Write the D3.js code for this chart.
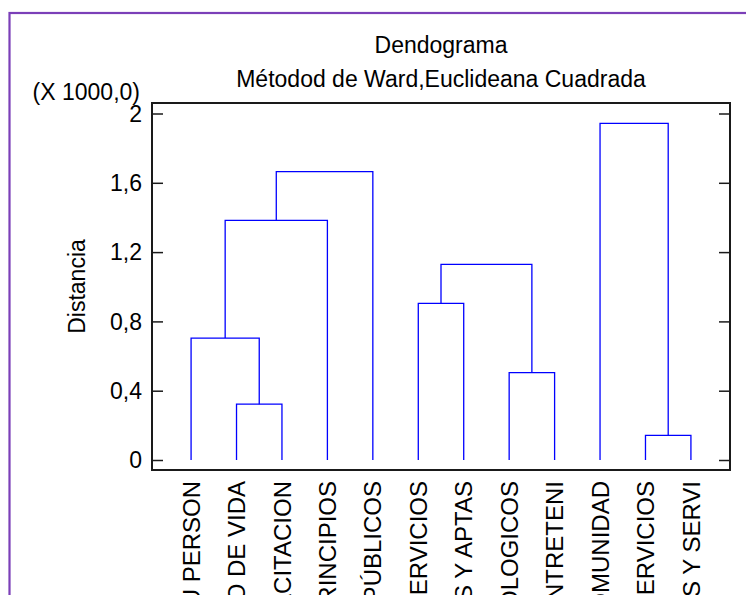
<!DOCTYPE html>
<html>
<head>
<meta charset="utf-8">
<script src="https://cdn.jsdelivr.net/npm/d3@7"></script>
<style type="text/css">
	body { margin: 0; background: #ffffff; overflow: hidden; }
	text { font-family: "Liberation Sans", Arial, sans-serif; fill: #000; }
	.tick line { stroke: #1a1a1a; stroke-width: 1.5; }
	.link { fill: none; stroke: #0000ff; stroke-width: 1.3; }
</style>
</head>
<body>
<div id="chart"></div>
<script>

// leaf names (the ends are cut off by the window, as in the original)
var leaves = ["CUIDADO DE SU PERSON", "ESTILO DE VIDA", "CAPACITACION", "PRINCIPIOS",
	"SERVICIOS PÚBLICOS", "SERVICIOS", "HABILIDADES Y APTAS", "TECNOLOGICOS",
	"MEDIOS DE ENTRETENI", "COMUNIDAD", "SERVICIOS", "BIENES Y SERVI"];

// merges: node 12 is the first merge, 13 the second, ...
var mergeLeft   = [1, 0, 13, 14, 5, 7, 16, 10, 9];
var mergeRight  = [2, 12, 3, 4, 6, 8, 17, 11, 19];
var mergeHeight = [322, 704, 1383, 1664, 904, 504, 1129, 142, 1943];

var majorTicks = [0, 400, 800, 1200, 1600, 2000];
var minorTicks = d3.range(0, 2001, 100);

var W = 746, H = 595;
var frame = {left: 152, right: 730, top: 103, bottom: 470};

var svg = d3.select("#chart").append("svg")
	.attr("width", W).attr("height", H);

// purple outer border (runs off the picture on the right and bottom)
svg.append("rect")
	.attr("x", 9.5).attr("y", 13)
	.attr("width", 800).attr("height", 700)
	.attr("fill", "none")
	.attr("stroke", "#7b3fb8")
	.attr("stroke-width", 2.2);

var x = d3.scalePoint()
	.domain(d3.range(leaves.length))
	.range([frame.left, frame.right])
	.padding(0.86);

var y = d3.scaleLinear()
	.domain([0, 2000])
	.range([460, 113.5]);

// build node positions
var nodeX = [], nodeY = [];
leaves.forEach(function(d, i) { nodeX[i] = x(i); nodeY[i] = y(0); });
for (var i = 0; i < mergeHeight.length; i++) {
	var a = mergeLeft[i], b = mergeRight[i], id = leaves.length + i;
	nodeX[id] = (nodeX[a] + nodeX[b]) / 2;
	nodeY[id] = y(mergeHeight[i]);
}

var links = [];
for (var i = 0; i < mergeHeight.length; i++) {
	var a = mergeLeft[i], b = mergeRight[i], h = y(mergeHeight[i]);
	links.push("M" + nodeX[a] + "," + nodeY[a] + "V" + h + "H" + nodeX[b] + "V" + nodeY[b]);
}

svg.selectAll("path.link").data(links).enter().append("path")
	.attr("class", "link")
	.attr("d", function(d) { return d; });

function fmt(v) { return d3.format("~g")(v / 1000).replace(".", ","); }

// left axis, ticks pointing inside
var gl = svg.append("g").attr("transform", "translate(" + frame.left + ",0)");
gl.call(d3.axisLeft(y).tickValues(minorTicks).tickSize(-6).tickFormat(""));
gl.call(d3.axisLeft(y).tickValues(majorTicks).tickSize(-11).tickPadding(10).tickFormat(fmt));
gl.selectAll(".domain").remove();
gl.selectAll("text").style("font-size", "23px").attr("dy", "0.34em");

// right axis, no labels
var gr = svg.append("g").attr("transform", "translate(" + frame.right + ",0)");
gr.call(d3.axisRight(y).tickValues(minorTicks).tickSize(-6).tickFormat(""));
gr.call(d3.axisRight(y).tickValues(majorTicks).tickSize(-11).tickFormat(""));
gr.selectAll(".domain").remove();

// frame
svg.append("rect")
	.attr("x", frame.left).attr("y", frame.top)
	.attr("width", frame.right - frame.left)
	.attr("height", frame.bottom - frame.top)
	.attr("fill", "none")
	.attr("stroke", "#1a1a1a")
	.attr("stroke-width", 2);

// leaf labels
svg.selectAll("text.leaf").data(leaves).enter().append("text")
	.attr("class", "leaf")
	.attr("transform", function(d, i) { return "translate(" + x(i) + ",481) rotate(-90)"; })
	.attr("text-anchor", "end")
	.attr("dy", "0.36em")
	.style("font-size", "24px")
	.text(function(d) { return d; });

// titles
var cx = (frame.left + frame.right) / 2;
svg.append("text").attr("x", cx).attr("y", 53)
	.attr("text-anchor", "middle").style("font-size", "23px").text("Dendograma");
svg.append("text").attr("x", cx).attr("y", 87)
	.attr("text-anchor", "middle").style("font-size", "23px").text("Métodod de Ward,Euclideana Cuadrada");
svg.append("text").attr("x", 140).attr("y", 100)
	.attr("text-anchor", "end").style("font-size", "23px").text("(X 1000,0)");
svg.append("text")
	.attr("transform", "translate(85," + ((frame.top + frame.bottom) / 2) + ") rotate(-90)")
	.attr("text-anchor", "middle").style("font-size", "23px").text("Distancia");

</script>
</body>
</html>
